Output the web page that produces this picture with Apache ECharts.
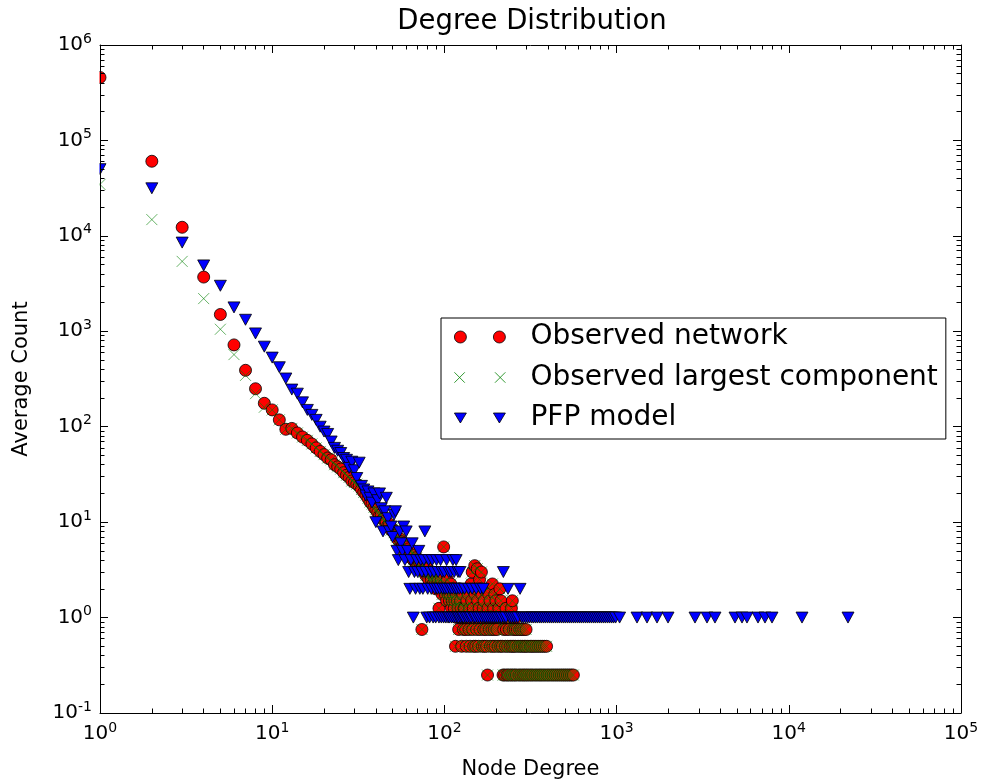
<!DOCTYPE html>
<html>
<head>
<meta charset="utf-8">
<title>Degree Distribution</title>
<script src="https://cdn.jsdelivr.net/npm/echarts@6/dist/echarts.min.js"></script>
<style>
html, body { margin: 0; padding: 0; background: #fff; }
#chart { width: 983px; height: 782px; }
</style>
</head>
<body>
<div id="chart"></div>
<script>
// [node degree, average count]
const networkHead = [
  [1, 457000], [2, 60500], [3, 12300], [4, 3700], [5, 1500], [6, 720], [7, 390], [8, 250], [9, 176]
]
const componentHead = [
  [1, 34600], [2, 14800], [3, 5400], [4, 2200], [5, 1050], [6, 570], [7, 345], [8, 222], [9, 160]
]
// from degree 10 on the largest component holds the same nodes as the whole network
const sharedTail = [
  [10, 150], [11, 118], [12, 94], [13, 96], [14, 86], [15, 78], [16, 72], [17, 66], [18, 60], [19, 55],
  [20, 51], [21, 47], [22, 45], [23, 40], [24, 38], [25, 36], [26, 33], [27, 31], [28, 29.5], [29, 27],
  [30, 26], [31, 25], [32, 24], [33, 22], [34, 20.5], [35, 19.25], [36, 17.75], [37, 16.25], [38, 15.5], [39, 14.25],
  [40, 13.5], [41, 12.5], [42, 11.75], [43, 12], [44, 10.75], [45, 10.25], [46, 10], [47, 9.25], [48, 9.5], [49, 8.25],
  [50, 8.5], [51, 7.75], [52, 7.25], [53, 7], [54, 6.5], [55, 6.75], [56, 6.25], [57, 5.75], [58, 6], [59, 5],
  [60, 5.5], [61, 4.75], [62, 5.25], [63, 4.5], [64, 4.25], [65, 5], [66, 4], [67, 4.5], [68, 3.75], [69, 4.25],
  [70, 4], [71, 3.5], [72, 3.75], [73, 3.25], [74, 0.75], [75, 3.5], [76, 3], [77, 3.25], [78, 2.75], [79, 3],
  [80, 3.25], [81, 2.5], [82, 3], [83, 2.75], [84, 2.5], [85, 3], [86, 2.25], [87, 2.75], [88, 2.5], [89, 2],
  [90, 2.75], [91, 2.25], [92, 2.5], [93, 1.25], [94, 2], [95, 2.25], [96, 2.5], [97, 1.75], [98, 2], [99, 5.5],
  [100, 2.25], [101, 1.75], [102, 2], [103, 1.5], [104, 2.5], [105, 1.75], [106, 2], [107, 1.5], [108, 1.75], [109, 2.25],
  [110, 1.25], [111, 1.5], [112, 2], [113, 1.75], [114, 1.25], [115, 1.5], [116, 0.5], [117, 1.75], [118, 1], [119, 1.5],
  [120, 1.25], [121, 0.75], [122, 2], [123, 1], [124, 1.5], [125, 1.25], [126, 0.5], [127, 1], [128, 1.75], [129, 0.75],
  [130, 1.25], [131, 1.25], [132, 1], [133, 0.75], [134, 0.5], [135, 1.5], [136, 1], [137, 2], [138, 1.75], [139, 0.75],
  [140, 1.25], [141, 0.5], [142, 1], [143, 2.25], [144, 1.5], [145, 3], [146, 0.75], [147, 1.25], [148, 0.5], [149, 1],
  [150, 3.5], [151, 1.75], [152, 0.5], [153, 2], [154, 0.75], [155, 3.25], [156, 1.5], [157, 1], [158, 0.5], [159, 1.25],
  [160, 2.5], [161, 0.75], [162, 2], [163, 1], [164, 3], [165, 1.75], [166, 0.5], [168, 1.25], [169, 0.75], [170, 1.5],
  [171, 0.5], [172, 1], [174, 0.75], [176, 0.5], [177, 2], [178, 0.25], [179, 1.25], [180, 1], [181, 1.75], [182, 0.75],
  [184, 1.5], [185, 0.5], [187, 1], [189, 0.75], [190, 2.25], [191, 0.5], [193, 1.25], [194, 1], [195, 0.75], [196, 1.75],
  [197, 0.5], [199, 1.5], [200, 1], [202, 0.75], [205, 0.5], [207, 1.25], [208, 1], [210, 2], [212, 0.5], [213, 1.5],
  [215, 1], [217, 0.5], [219, 0.25], [221, 0.75], [222, 1], [224, 0.25], [226, 0.5], [228, 1.25], [229, 0.75], [231, 0.25],
  [232, 1], [233, 0.5], [236, 0.25], [238, 0.75], [240, 1], [241, 0.5], [243, 0.25], [245, 1.25], [247, 0.5], [248, 1.5],
  [249, 0.25], [250, 1], [251, 0.75], [253, 0.5], [256, 0.25], [258, 0.75], [259, 0.5], [262, 0.25], [263, 1], [265, 0.75],
  [268, 0.5], [271, 0.25], [274, 0.75], [276, 0.5], [278, 0.25], [281, 0.75], [283, 0.5], [286, 0.25], [289, 0.75], [291, 0.5],
  [293, 0.25], [297, 0.5], [298, 0.75], [301, 0.25], [305, 0.5], [309, 0.25], [315, 0.5], [318, 0.25], [322, 0.5], [326, 0.25],
  [331, 0.5], [336, 0.25], [340, 0.5], [345, 0.25], [350, 0.5], [355, 0.25], [360, 0.5], [364, 0.25], [370, 0.5], [374, 0.25],
  [381, 0.5], [384, 0.25], [392, 0.5], [395, 0.25], [405, 0.25], [417, 0.25], [428, 0.25], [440, 0.25], [452, 0.25], [465, 0.25],
  [478, 0.25], [491, 0.25], [504, 0.25], [518, 0.25], [532, 0.25], [547, 0.25], [561, 0.25]
]
const pfpModel = [
  [1, 50000], [2, 31500], [3, 8500], [4, 4900], [5, 3000], [6, 1780], [7, 1320], [8, 950], [9, 690],
  [10, 530], [11, 420], [12, 320], [13, 245], [14, 222], [15, 180], [16, 150], [17, 133], [18, 118], [19, 100],
  [20, 89], [21, 84], [22, 70], [23, 60], [24, 56], [25, 53], [26, 47], [27, 45], [28, 37], [29, 43],
  [30, 35], [31, 29], [32, 42], [33, 24], [34, 22], [35, 19], [36, 21], [37, 18], [38, 16], [39, 20],
  [40, 10], [41, 17], [42, 20], [43, 14], [44, 8], [45, 13], [46, 18], [47, 11], [48, 8], [49, 9],
  [50, 7], [51, 12], [52, 13], [53, 5], [54, 4], [55, 8], [56, 6], [57, 5], [58, 9], [59, 4],
  [60, 8], [61, 5], [62, 3], [63, 2], [64, 4], [65, 6], [66, 1], [67, 3], [68, 2], [69, 4],
  [70, 3], [71, 5], [72, 2], [73, 4], [74, 3], [75, 2], [76, 4], [77, 8], [78, 3], [79, 1],
  [80, 2], [81, 4], [82, 1], [83, 3], [84, 2], [85, 4], [86, 1], [87, 3], [88, 2], [89, 1],
  [90, 4], [91, 2], [92, 3], [93, 1], [94, 2], [95, 4], [96, 1], [97, 3], [98, 2], [99, 1],
  [100, 3], [101, 2], [102, 1], [103, 4], [104, 2], [105, 1], [106, 3], [107, 1], [108, 2], [109, 3],
  [110, 1], [111, 2], [112, 4], [113, 1], [114, 3], [115, 2], [116, 1], [117, 4], [118, 2], [119, 1],
  [120, 3], [121, 1], [122, 2], [123, 3], [124, 1], [126, 2], [127, 1], [129, 1], [131, 2], [133, 1],
  [136, 1], [138, 2], [140, 1], [143, 1], [145, 2], [148, 1], [151, 1], [153, 2], [156, 1], [160, 1],
  [162, 2], [165, 1], [168, 2], [170, 1], [174, 1], [179, 1], [184, 1], [189, 1], [194, 1], [199, 1],
  [204, 1], [210, 1], [215, 1], [220, 3], [222, 1], [228, 1], [234, 2], [240, 1], [246, 1], [253, 1],
  [260, 1], [267, 1], [275, 2], [282, 1], [289, 1], [297, 1], [305, 1], [313, 1], [322, 1], [330, 1],
  [339, 1], [348, 1], [358, 1], [367, 1], [377, 1], [387, 1], [398, 1], [409, 1], [420, 1], [431, 1],
  [443, 1], [455, 1], [467, 1], [480, 1], [493, 1], [506, 1], [520, 1], [534, 1], [548, 1], [563, 1],
  [578, 1], [594, 1], [610, 1], [626, 1], [643, 1], [661, 1], [679, 1], [697, 1], [716, 1], [736, 1],
  [755, 1], [776, 1], [797, 1], [818, 1], [840, 1], [862, 1], [886, 1], [910, 1], [935, 1], [960, 1],
  [987, 1], [1041, 1], [1314, 1], [1502, 1], [1717, 1], [1989, 1], [2853, 1], [3350, 1], [3727, 1], [4871, 1],
  [5349, 1], [5718, 1], [6625, 1], [7275, 1], [7989, 1], [11932, 1], [22070, 1]
]

const xTicks = [1, 10, 100, 1000, 10000, 100000]
const yTicks = [0.1, 1, 10, 100, 1000, 10000, 100000, 1000000]

// 2..9 inside every decade
function minorTicks(lo, hi) {
  let out = []
  for (let e = lo; e < hi; e++) {
    for (let m = 2; m <= 9; m++) out.push(+(m * Math.pow(10, e)).toPrecision(3))
  }
  return out
}
const xMinor = minorTicks(0, 5)
const yMinor = minorTicks(-1, 6)

const font = 'DejaVu Sans'

const labelRich = {
  b: { fontFamily: font, fontSize: 20, color: '#000', lineHeight: 26 },
  s: { fontFamily: font, fontSize: 14, color: '#000', lineHeight: 14, verticalAlign: 'top' }
}

function supLabel(v) {
  let e = Math.round(Math.log10(v))
  return '{b|10}{s|' + e + '}'
}

// one axis per side for the long ticks, one more for the short ones
function axis(dim, position, ticks, len, spine, labels, extra) {
  let range = dim == 'x' ? { min: 1, max: 100000 } : { min: 0.1, max: 1000000 }
  return Object.assign({
    type: 'log',
    logBase: 10,
    gridIndex: 0,
    position: position,
    offset: 0,
    z: 20,
    min: range.min,
    max: range.max,
    axisLine: { show: spine, onZero: false, lineStyle: { color: '#000', width: 1 } },
    axisTick: { show: true, inside: true, length: len, customValues: ticks, lineStyle: { color: '#000', width: 1 } },
    axisLabel: { show: labels, customValues: ticks, formatter: supLabel, rich: labelRich, margin: 8 },
    splitLine: { show: false },
    minorTick: { show: false },
    minorSplitLine: { show: false }
  }, extra || {})
}

const legendIcons = {
  circle: 'path://M0,6a6,6 0 1,0 12,0a6,6 0 1,0 -12,0Z M39,6a6,6 0 1,0 12,0a6,6 0 1,0 -12,0Z',
  cross: 'path://M1,1L11,11M1,11L11,1 M40,1L50,11M40,11L50,1',
  tri: 'path://M0,1L12,1L6,11Z M39,1L51,1L45,11Z'
}

let chartDom = document.getElementById('chart')
let myChart = echarts.init(chartDom)
let option

option = {
  animation: false,
  backgroundColor: '#fff',
  title: {
    text: 'Degree Distribution',
    left: 527,
    top: 3,
    textAlign: 'center',
    textStyle: { fontFamily: font, fontSize: 27.5, fontWeight: 'normal', color: '#000' }
  },
  grid: { left: 100, top: 45, right: 22, bottom: 69, containLabel: false, outerBoundsMode: 'none' },
  legend: {
    orient: 'vertical',
    left: 441,
    top: 318,
    backgroundColor: '#fff',
    borderColor: '#000',
    borderWidth: 1,
    borderRadius: 0,
    padding: [5, 8, 7, 13],
    itemWidth: 51,
    itemHeight: 12,
    itemGap: 12.5,
    selectedMode: false,
    itemStyle: { borderWidth: 0.8 },
    textStyle: { fontFamily: font, fontSize: 28, color: '#000', padding: [0, 0, 0, 20] },
    data: [
      { name: 'Observed network', icon: legendIcons.circle },
      { name: 'Observed largest component', icon: legendIcons.cross, itemStyle: { borderWidth: 0.8 } },
      { name: 'PFP model', icon: legendIcons.tri }
    ]
  },
  xAxis: [
    axis('x', 'bottom', xTicks, 8, true, true, {
      name: 'Node Degree',
      nameLocation: 'middle',
      nameGap: 46,
      nameTextStyle: { fontFamily: font, fontSize: 21, color: '#000' }
    }),
    axis('x', 'bottom', xMinor, 4.5, false, false),
    axis('x', 'top', xTicks, 8, true, false),
    axis('x', 'top', xMinor, 4.5, false, false)
  ],
  yAxis: [
    axis('y', 'left', yTicks, 8, true, true, {
      name: 'Average Count',
      nameLocation: 'middle',
      nameGap: 68,
      nameTextStyle: { fontFamily: font, fontSize: 21, color: '#000' }
    }),
    axis('y', 'left', yMinor, 4.5, false, false),
    axis('y', 'right', yTicks, 8, true, false),
    axis('y', 'right', yMinor, 4.5, false, false)
  ],
  graphic: [
    // matplotlib clips markers at the frame; hide the halves left of the y axis
    { type: 'rect', left: 92.5, top: 45, z: 10, shape: { width: 7, height: 668 }, style: { fill: '#fff' } }
  ],
  series: [
    {
      name: 'Observed network',
      type: 'scatter',
      xAxisIndex: 0,
      yAxisIndex: 0,
      progressive: 0,
      data: networkHead.concat(sharedTail),
      symbol: 'circle',
      symbolSize: 12,
      itemStyle: { color: '#ff0000', borderColor: '#000', borderWidth: 0.8, opacity: 1 }
    },
    {
      name: 'Observed largest component',
      type: 'scatter',
      xAxisIndex: 0,
      yAxisIndex: 0,
      progressive: 0,
      data: componentHead.concat(sharedTail),
      symbol: 'path://M0,0L10,10M0,10L10,0',
      symbolSize: 11,
      itemStyle: { color: 'rgba(0,0,0,0)', borderColor: '#008000', borderWidth: 0.6, opacity: 1 }
    },
    {
      name: 'PFP model',
      type: 'scatter',
      xAxisIndex: 0,
      yAxisIndex: 0,
      progressive: 0,
      data: pfpModel,
      symbol: 'path://M0,0L12,0L6,10.4Z',
      symbolSize: [12, 11],
      itemStyle: { color: '#0000ff', borderColor: '#000', borderWidth: 0.8, opacity: 1 }
    }
  ]
}

option && myChart.setOption(option)
</script>
</body>
</html>
